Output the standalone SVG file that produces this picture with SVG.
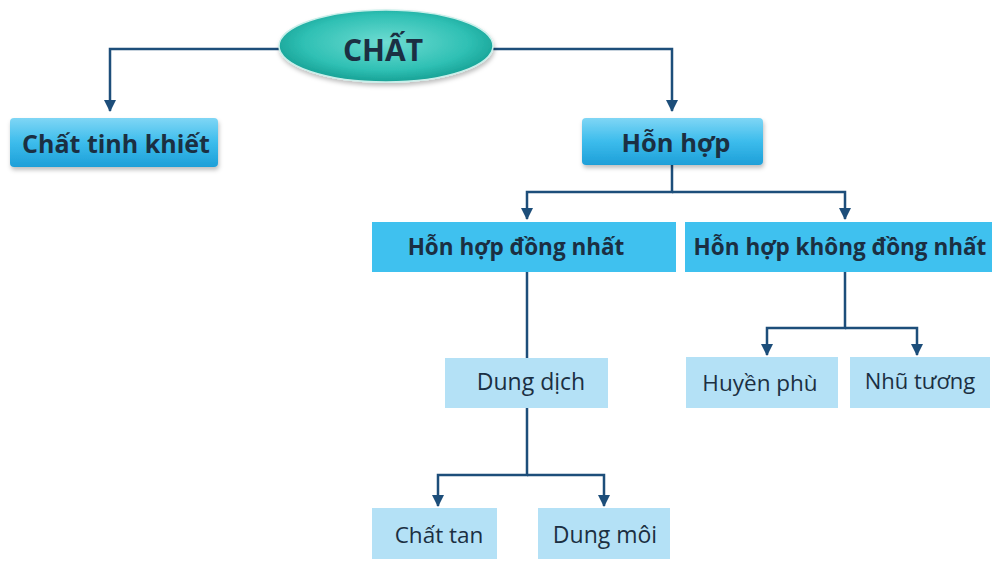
<svg xmlns="http://www.w3.org/2000/svg" width="996" height="563" viewBox="0 0 996 563">
<defs>
<radialGradient id="ell" cx="50%" cy="45%" r="55%">
<stop offset="0" stop-color="#6fdcd2"/>
<stop offset="0.7" stop-color="#2fc0b4"/>
<stop offset="1" stop-color="#17a195"/>
</radialGradient>
<linearGradient id="btn" x1="0" y1="0" x2="0" y2="1">
<stop offset="0" stop-color="#7fd6f5"/>
<stop offset="0.5" stop-color="#3cbcec"/>
<stop offset="1" stop-color="#1e9fd8"/>
</linearGradient>
<filter id="sh" x="-10%" y="-20%" width="120%" height="150%">
<feDropShadow dx="1" dy="3" stdDeviation="2" flood-color="#000" flood-opacity="0.25"/>
</filter>
<marker id="arr" viewBox="0 0 12 12" refX="11" refY="6" markerWidth="12" markerHeight="12" markerUnits="userSpaceOnUse" orient="auto">
<path d="M0,0 L12,6 L0,12 z" fill="#1d4e7a"/>
</marker>
</defs>
<style>
.ln{fill:none;stroke:#1d4e7a;stroke-width:2.5}
.b{font-family:"Open Sans","Noto Sans",sans-serif;font-weight:bold;fill:#1b2f42;text-anchor:middle}
.r{font-family:"Open Sans","Noto Sans",sans-serif;fill:#1b2f42;text-anchor:middle}
.mid{fill:#3fc1ef}
.lt{fill:#b4e1f6}
</style>
<rect width="996" height="563" fill="#ffffff"/>
<g id="connectors">
<path class="ln" d="M280,49 H110 V111" marker-end="url(#arr)"/>
<path class="ln" d="M493,49 H672 V111" marker-end="url(#arr)"/>
<path class="ln" d="M672,165 V192 H527 V219" marker-end="url(#arr)"/>
<path class="ln" d="M672,192 H845 V219" marker-end="url(#arr)"/>
<path class="ln" d="M527,272 V358"/>
<path class="ln" d="M845,272 V328 H767 V355" marker-end="url(#arr)"/>
<path class="ln" d="M845,328 H917 V355" marker-end="url(#arr)"/>
<path class="ln" d="M527,408 V475 H438 V506" marker-end="url(#arr)"/>
<path class="ln" d="M527,475 H604 V506" marker-end="url(#arr)"/>
</g>
<g id="chat">
<ellipse cx="386" cy="46" rx="107" ry="36" fill="url(#ell)" stroke="#c9efea" stroke-width="1.5" filter="url(#sh)"/>
<text class="b" x="383" y="61" font-size="30">CHẤT</text>
</g>
<g id="tinh-khiet">
<rect x="10" y="118" width="208" height="49" rx="4" fill="url(#btn)" filter="url(#sh)"/>
<text class="b" x="116" y="153" font-size="25">Chất tinh khiết</text>
</g>
<g id="hon-hop">
<rect x="582" y="118" width="181" height="47" rx="4" fill="url(#btn)" filter="url(#sh)"/>
<text class="b" x="676" y="152" font-size="25.5">Hỗn hợp</text>
</g>
<g id="dong-nhat">
<rect class="mid" x="372" y="222" width="304" height="50"/>
<text class="b" x="516" y="255" font-size="22.5">Hỗn hợp đồng nhất</text>
</g>
<g id="khong-dong-nhat">
<rect class="mid" x="685" y="222" width="307" height="50"/>
<text class="b" x="840" y="255" font-size="22.5">Hỗn hợp không đồng nhất</text>
</g>
<g id="dung-dich">
<rect class="lt" x="445" y="358" width="163" height="50"/>
<text class="r" x="531" y="390" font-size="23">Dung dịch</text>
</g>
<g id="huyen-phu">
<rect class="lt" x="686" y="357" width="152" height="51"/>
<text class="r" x="760" y="391" font-size="22.5">Huyền phù</text>
</g>
<g id="nhu-tuong">
<rect class="lt" x="850" y="357" width="140" height="51"/>
<text class="r" x="920" y="389" font-size="22">Nhũ tương</text>
</g>
<g id="chat-tan">
<rect class="lt" x="372" y="508" width="125" height="51"/>
<text class="r" x="439" y="543" font-size="22.5">Chất tan</text>
</g>
<g id="dung-moi">
<rect class="lt" x="538" y="508" width="132" height="51"/>
<text class="r" x="605" y="543" font-size="23">Dung môi</text>
</g>
</svg>
